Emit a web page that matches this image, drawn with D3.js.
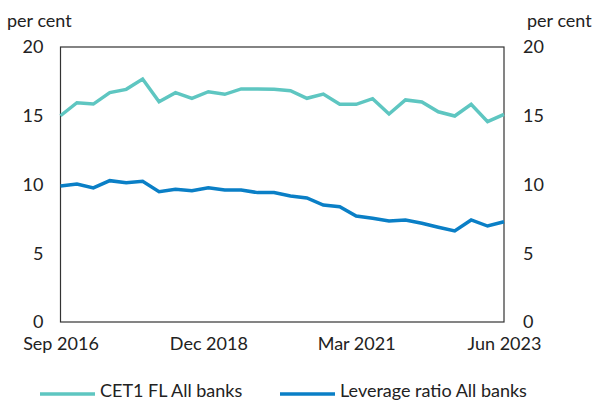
<!DOCTYPE html>
<html>
<head>
<meta charset="utf-8">
<script src="https://cdn.jsdelivr.net/npm/d3@7"></script>
<style>
  html, body { margin: 0; padding: 0; background: #fff; }
  svg { display: block; font-family: Lato, "Open Sans", sans-serif; }
</style>
</head>
<body>
<svg id="chart" width="595" height="401"></svg>
<script>
const quarters = ["Sep 2016","Dec 2016","Mar 2017","Jun 2017","Sep 2017","Dec 2017","Mar 2018","Jun 2018","Sep 2018","Dec 2018",
  "Mar 2019","Jun 2019","Sep 2019","Dec 2019","Mar 2020","Jun 2020","Sep 2020","Dec 2020","Mar 2021","Jun 2021",
  "Sep 2021","Dec 2021","Mar 2022","Jun 2022","Sep 2022","Dec 2022","Mar 2023","Jun 2023"];
const cet1 = [15.0,15.95,15.85,16.68,16.92,17.67,16.02,16.68,16.27,16.75,16.56,16.95,16.95,16.92,16.82,16.27,16.58,15.83,15.83,16.24,15.13,16.15,16.0,15.29,14.98,15.83,14.57,15.1];
const leverage = [9.89,10.04,9.75,10.28,10.13,10.23,9.48,9.65,9.55,9.77,9.6,9.6,9.41,9.41,9.16,9.02,8.51,8.39,7.71,7.54,7.35,7.42,7.18,6.89,6.62,7.42,6.98,7.29];
const xTickLabels = ["Sep 2016","Dec 2018","Mar 2021","Jun 2023"];
const yTicks = [0,5,10,15,20];
const seriesNames = ["CET1 FL All banks","Leverage ratio All banks"];
const seriesColors = ["#5ec6c1","#0a7fc6"];

const svg = d3.select("#chart");
const mLeft = 60.5, mRight = 504, mTop = 47, mBottom = 322;
const fs = 18;

const x = d3.scalePoint().domain(quarters).range([mLeft, mRight]);
const y = d3.scaleLinear().domain([0, 20]).range([mBottom, mTop]);

// frame
svg.append("rect").attr("x", mLeft).attr("y", mTop).attr("width", mRight - mLeft).attr("height", mBottom - mTop)
  .attr("fill", "none").attr("stroke", "#333").attr("stroke-width", 1.2);

// y axes
const yl = svg.append("g").attr("transform", `translate(${mLeft},0)`)
  .call(d3.axisLeft(y).tickValues(yTicks).tickSize(0).tickPadding(17));
const yr = svg.append("g").attr("transform", `translate(${mRight},0)`)
  .call(d3.axisRight(y).tickValues(yTicks).tickSize(0).tickPadding(19));
[yl, yr].forEach(g => {
  g.select(".domain").remove();
  g.selectAll("text").attr("font-size", fs).attr("fill", "#222").attr("font-family", "Lato, sans-serif");
});

// x axis
const xa = svg.append("g").attr("transform", `translate(0,${mBottom})`)
  .call(d3.axisBottom(x).tickValues(xTickLabels).tickSize(0).tickPadding(15));
xa.select(".domain").remove();
xa.selectAll("text").attr("font-size", fs).attr("fill", "#222").attr("font-family", "Lato, sans-serif");

// units
svg.append("text").attr("x", 7).attr("y", 27).attr("font-size", fs).attr("fill", "#222").text("per cent");
svg.append("text").attr("x", 527).attr("y", 27).attr("font-size", fs).attr("fill", "#222").text("per cent");

// lines
const line = d3.line().x((d, i) => x(quarters[i])).y(d => y(d));
[cet1, leverage].forEach((s, k) => {
  svg.append("path").datum(s).attr("d", line).attr("fill", "none")
    .attr("stroke", seriesColors[k]).attr("stroke-width", 3.5).attr("stroke-linejoin", "miter");
});

// legend
const legendX = [40, 280];
seriesNames.forEach((n, k) => {
  svg.append("line").attr("x1", legendX[k]).attr("x2", legendX[k] + 55).attr("y1", 394).attr("y2", 394)
    .attr("stroke", seriesColors[k]).attr("stroke-width", 3.5);
  svg.append("text").attr("x", legendX[k] + 60).attr("y", 397).attr("font-size", fs).attr("fill", "#222").text(n);
});
</script>
</body>
</html>
